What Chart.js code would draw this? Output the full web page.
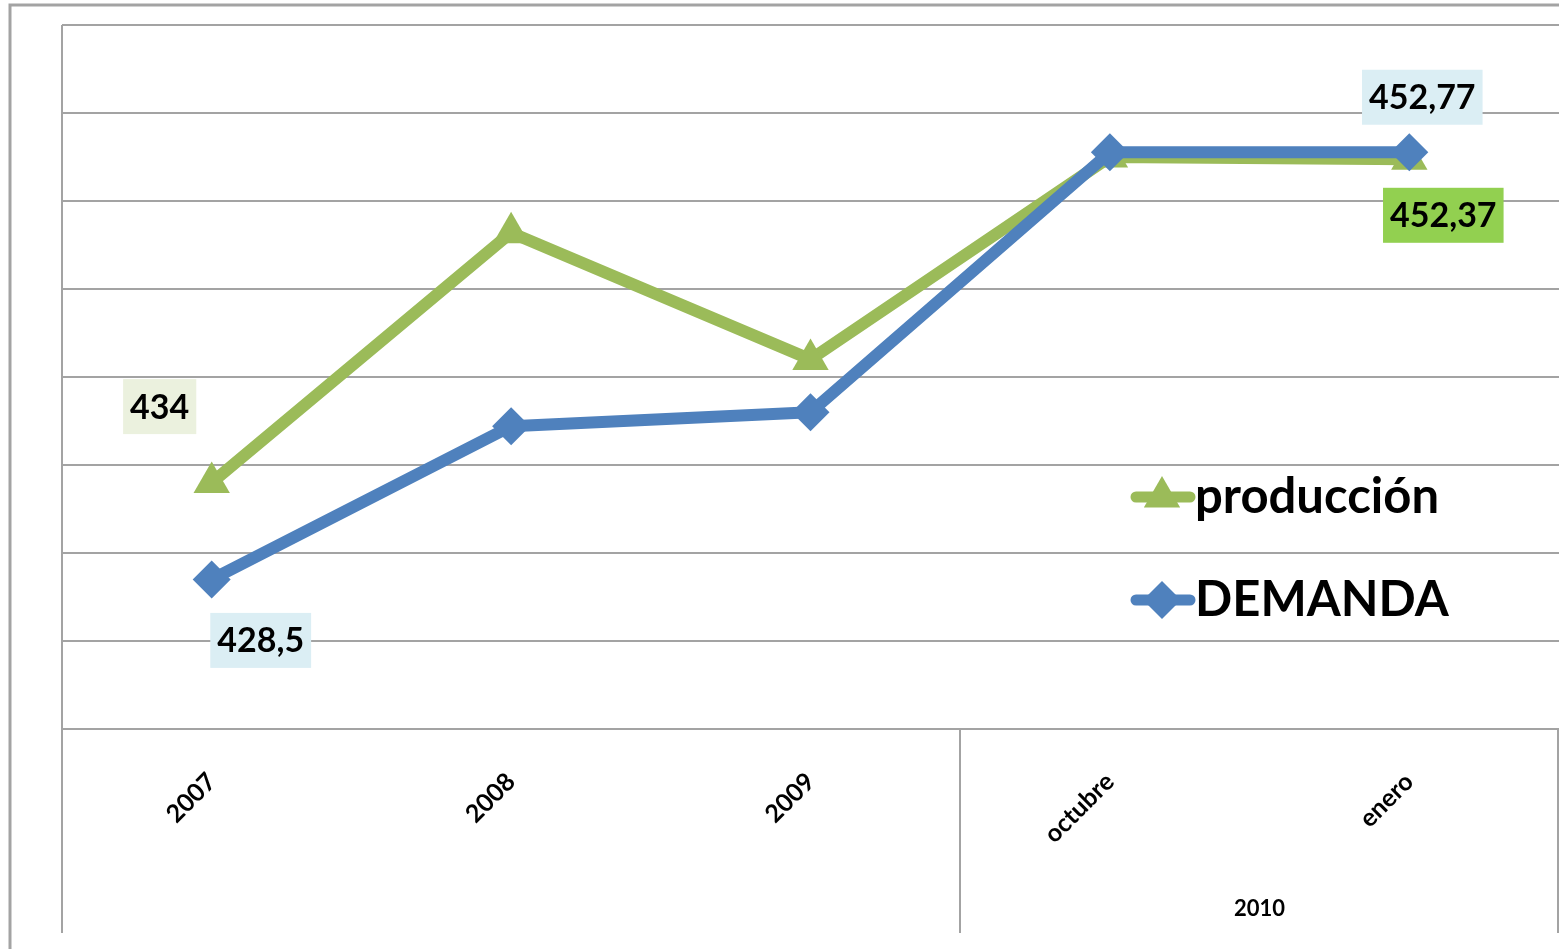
<!DOCTYPE html>
<html>
<head>
<meta charset="utf-8">
<script src="https://cdn.jsdelivr.net/npm/chart.js@4"></script>
<style>
  html, body { margin: 0; padding: 0; background: #fff; overflow: hidden; }
  canvas { display: block; }
</style>
</head>
<body>
<canvas id="grafico" width="1559" height="949"></canvas>
<script>
const categorias = ["2007", "2008", "2009", "octubre", "enero"];
const produccion = [434, 448.2, 441, 452.5, 452.37];
const demanda = [428.5, 437.2, 438, 452.77, 452.77];
const ejeY = { min: 420, max: 460, paso: 5 };
const grupos = [{ texto: "2010", desde: 3, hasta: 4 }];

const VERDE = "#9BBB59";
const AZUL = "#4F81BD";
const GRIS = "#A3A3A3";
const FUENTE = "Lato, 'Open Sans', sans-serif";

// etiquetas de datos: [dataset, indice, dx, dy, fondo]
const etiquetas = [
  [0, 0, -52, -76, "#EBF1DE"],
  [1, 0, 49, 61, "#DBEEF4"],
  [1, 4, 13, -55, "#DBEEF4"],
  [0, 4, 34, 56, "#92D050"]
];

function fmt(v) {
  return String(v).replace(".", ",");
}

const extras = {
  id: "extras",
  afterDraw(chart) {
    const ctx = chart.ctx;
    const area = chart.chartArea;
    const x = chart.scales.x;

    ctx.save();
    // marco exterior
    ctx.strokeStyle = GRIS;
    ctx.lineWidth = 3;
    ctx.beginPath();
    ctx.moveTo(10, chart.height);
    ctx.lineTo(10, 5);
    ctx.lineTo(chart.width, 5);
    ctx.stroke();

    // borde izquierdo del area y separadores de grupo
    ctx.lineWidth = 2;
    ctx.beginPath();
    ctx.moveTo(area.left, area.top);
    ctx.lineTo(area.left, x.bottom);
    grupos.forEach(g => {
      const a = Math.round(x.getPixelForValue(g.desde - 0.5));
      const b = Math.round(x.getPixelForValue(g.hasta + 0.5)) - 1;
      ctx.moveTo(a, area.bottom);
      ctx.lineTo(a, x.bottom);
      ctx.moveTo(b, area.bottom);
      ctx.lineTo(b, x.bottom);
    });
    ctx.stroke();

    ctx.fillStyle = "#000";
    ctx.font = "bold 22px " + FUENTE;
    ctx.textAlign = "center";
    ctx.textBaseline = "middle";
    grupos.forEach(g => {
      const cx = (x.getPixelForValue(g.desde - 0.5) + x.getPixelForValue(g.hasta + 0.5)) / 2;
      ctx.fillText(g.texto, cx, 909);
    });

    // etiquetas de datos
    ctx.font = "bold 34px " + FUENTE;
    etiquetas.forEach(([ds, i, dx, dy, fondo]) => {
      const p = chart.getDatasetMeta(ds).data[i];
      const txt = fmt(chart.data.datasets[ds].data[i]);
      const w = ctx.measureText(txt).width + 14;
      const h = 55;
      const cx = p.x + dx, cy = p.y + dy;
      ctx.fillStyle = fondo;
      ctx.fillRect(cx - w / 2, cy - h / 2, w, h);
      ctx.fillStyle = "#000";
      ctx.fillText(txt, cx, cy + 1);
    });

    // leyenda
    const filas = [[0, 497], [1, 600]];
    ctx.font = "bold 49px " + FUENTE;
    ctx.textAlign = "left";
    filas.forEach(([ds, y]) => {
      const d = chart.data.datasets[ds];
      ctx.strokeStyle = d.borderColor;
      ctx.lineWidth = 11;
      ctx.lineCap = "round";
      ctx.beginPath();
      ctx.moveTo(1136, y);
      ctx.lineTo(1190, y);
      ctx.stroke();
      ctx.fillStyle = d.backgroundColor;
      Chart.helpers.drawPoint(ctx, { pointStyle: d.pointStyle, radius: d.pointRadius, borderWidth: 0 }, 1162, y);
      ctx.fillStyle = "#000";
      ctx.fillText(d.label, 1195, y);
    });
    ctx.restore();
  }
};

new Chart(document.getElementById("grafico"), {
  type: "line",
  data: {
    labels: categorias,
    datasets: [
      {
        label: "producción",
        data: produccion,
        borderColor: VERDE,
        backgroundColor: VERDE,
        borderWidth: 12,
        pointStyle: "triangle",
        pointRadius: 21,
        pointHoverRadius: 21,
        pointBorderWidth: 0,
        borderJoinStyle: "round",
        tension: 0,
        order: 1
      },
      {
        label: "DEMANDA",
        data: demanda,
        borderColor: AZUL,
        backgroundColor: AZUL,
        borderWidth: 12,
        pointStyle: "rectRot",
        pointRadius: 19,
        pointHoverRadius: 19,
        pointBorderWidth: 0,
        borderJoinStyle: "round",
        tension: 0,
        order: 0
      }
    ]
  },
  options: {
    responsive: false,
    animation: false,
    layout: { autoPadding: false, padding: { left: 0, top: 25, right: 0, bottom: 16 } },
    plugins: {
      legend: { display: false },
      tooltip: { enabled: false }
    },
    scales: {
      x: {
        offset: true,
        grid: { display: false },
        border: { display: false },
        ticks: {
          minRotation: 45,
          maxRotation: 45,
          padding: 30,
          color: "#000",
          font: { family: FUENTE, size: 25, weight: "bold" }
        },
        afterFit(s) {
          s.height = 204;
          s.paddingLeft = 0;
          s.paddingRight = 0;
        }
      },
      y: {
        min: ejeY.min,
        max: ejeY.max,
        ticks: { stepSize: ejeY.paso, display: false },
        grid: { color: GRIS, lineWidth: 2, drawTicks: false },
        border: { display: false },
        afterFit(s) { s.width = 62; }
      }
    }
  },
  plugins: [extras]
});
</script>
</body>
</html>
